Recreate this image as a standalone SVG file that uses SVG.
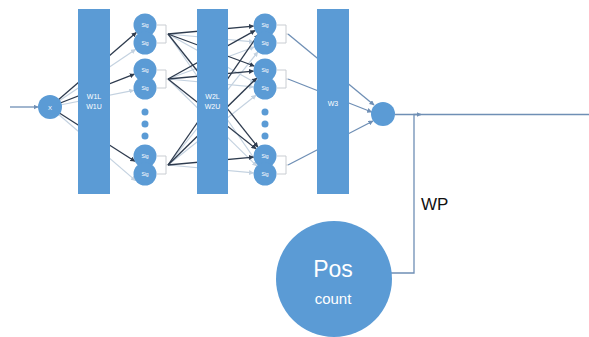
<svg xmlns="http://www.w3.org/2000/svg" width="589" height="337" viewBox="0 0 589 337">
  <style>
    .node { fill: #5B9BD5; }
    .bar { fill: #5B9BD5; }
    .dark { stroke: #2E3B4E; stroke-width: 1.3; fill: none; }
    .light { stroke: #C4D2E0; stroke-width: 1.2; fill: none; }
    .mid { stroke: #6F8FB5; stroke-width: 1.3; fill: none; }
    .bracket { stroke: #C9CDD2; stroke-width: 1; fill: none; }
    .lbl { fill: #FFFFFF; font-family: "Liberation Sans", Arial, sans-serif; text-anchor: middle; }
    .sig { font-size: 5px; }
    .w { font-size: 7px; }
  </style>
  <defs>
    <marker id="ahDark" viewBox="0 0 10 10" refX="9" refY="5" markerWidth="5" markerHeight="5" markerUnits="userSpaceOnUse" orient="auto">
      <path d="M0,0 L10,5 L0,10 z" fill="#2E3B4E"/>
    </marker>
    <marker id="ahLight" viewBox="0 0 10 10" refX="9" refY="5" markerWidth="5" markerHeight="5" markerUnits="userSpaceOnUse" orient="auto">
      <path d="M0,0 L10,5 L0,10 z" fill="#C4D2E0"/>
    </marker>
    <marker id="ahMid" viewBox="0 0 10 10" refX="9" refY="5" markerWidth="5" markerHeight="5" markerUnits="userSpaceOnUse" orient="auto">
      <path d="M0,0 L10,5 L0,10 z" fill="#6F8FB5"/>
    </marker>
  </defs>

  <!-- connectors -->
  <g id="connectors">
    <!-- input -->
    <line class="mid" x1="10" y1="107" x2="38" y2="107" marker-end="url(#ahMid)"/>
    <!-- X to first sigmoid column -->
    <line class="light" x1="50" y1="107" x2="135.5" y2="49.4" marker-end="url(#ahLight)"/>
    <line class="light" x1="50" y1="107" x2="133.7" y2="90.3" marker-end="url(#ahLight)"/>
    <line class="light" x1="50" y1="107" x2="135.6" y2="180.6" marker-end="url(#ahLight)"/>
    <line class="dark" x1="50" y1="107" x2="136.3" y2="32.5" marker-end="url(#ahDark)"/>
    <line class="dark" x1="50" y1="107" x2="134.3" y2="74.2" marker-end="url(#ahDark)"/>
    <line class="dark" x1="50" y1="107" x2="134.8" y2="161.3" marker-end="url(#ahDark)"/>

    <!-- first column brackets -->
    <path class="bracket" d="M157,25 H166 V43 H157 M166,34 H168"/>
    <path class="bracket" d="M157,70 H166 V88 H157 M166,79 H168"/>
    <path class="bracket" d="M157,156 H166 V174 H157 M166,165 H168"/>

    <!-- first column to second column (light) -->
    <line class="light" x1="168" y1="34" x2="253.5" y2="41.9" marker-end="url(#ahLight)"/>
    <line class="light" x1="168" y1="34" x2="254.9" y2="82.4" marker-end="url(#ahLight)"/>
    <line class="light" x1="168" y1="34" x2="258.4" y2="164.5" marker-end="url(#ahLight)"/>
    <line class="light" x1="168" y1="79" x2="254.2" y2="47.0" marker-end="url(#ahLight)"/>
    <line class="light" x1="168" y1="79" x2="253.5" y2="86.9" marker-end="url(#ahLight)"/>
    <line class="light" x1="168" y1="79" x2="256.8" y2="166.0" marker-end="url(#ahLight)"/>
    <line class="light" x1="168" y1="165" x2="257.8" y2="52.0" marker-end="url(#ahLight)"/>
    <line class="light" x1="168" y1="165" x2="256.0" y2="95.2" marker-end="url(#ahLight)"/>
    <line class="light" x1="168" y1="165" x2="253.5" y2="172.9" marker-end="url(#ahLight)"/>
    <!-- first column to second column (dark) -->
    <line class="dark" x1="168" y1="34" x2="253.5" y2="26.1" marker-end="url(#ahDark)"/>
    <line class="dark" x1="168" y1="34" x2="254.2" y2="66.0" marker-end="url(#ahDark)"/>
    <line class="dark" x1="168" y1="34" x2="257.8" y2="147.0" marker-end="url(#ahDark)"/>
    <line class="dark" x1="168" y1="79" x2="254.9" y2="30.6" marker-end="url(#ahDark)"/>
    <line class="dark" x1="168" y1="79" x2="253.5" y2="71.1" marker-end="url(#ahDark)"/>
    <line class="dark" x1="168" y1="79" x2="256.0" y2="148.8" marker-end="url(#ahDark)"/>
    <line class="dark" x1="168" y1="165" x2="258.4" y2="34.5" marker-end="url(#ahDark)"/>
    <line class="dark" x1="168" y1="165" x2="256.8" y2="78.0" marker-end="url(#ahDark)"/>
    <line class="dark" x1="168" y1="165" x2="253.5" y2="157.1" marker-end="url(#ahDark)"/>

    <!-- second column brackets -->
    <path class="bracket" d="M277,25 H286 V43 H277 M286,34 H288"/>
    <path class="bracket" d="M277,70 H286 V88 H277 M286,79 H288"/>
    <path class="bracket" d="M277,156 H286 V174 H277 M286,165 H288"/>

    <!-- second column to output node -->
    <line class="mid" x1="288" y1="34" x2="374" y2="105" marker-end="url(#ahMid)"/>
    <line class="mid" x1="288" y1="79" x2="371.7" y2="112" marker-end="url(#ahMid)"/>
    <line class="mid" x1="288" y1="165" x2="373" y2="121" marker-end="url(#ahMid)"/>

    <!-- output and WP feed -->
    <line class="mid" x1="395" y1="114.5" x2="589" y2="114.5"/>
    <path class="mid" d="M391,273 H414 V114.5 H421" marker-end="url(#ahMid)"/>
  </g>

  <!-- weight bars -->
  <g id="w1">
    <rect class="bar" x="78" y="9" width="32" height="185"/>
    <text class="lbl w" x="94" y="99">W1L</text>
    <text class="lbl w" x="94" y="109">W1U</text>
  </g>
  <g id="w2">
    <rect class="bar" x="197" y="9" width="31" height="185"/>
    <text class="lbl w" x="212.5" y="99">W2L</text>
    <text class="lbl w" x="212.5" y="109">W2U</text>
  </g>
  <g id="w3">
    <rect class="bar" x="317" y="9" width="32" height="185"/>
    <text class="lbl w" x="333" y="106">W3</text>
  </g>

  <!-- input node -->
  <g id="x">
    <circle class="node" cx="50" cy="107" r="12"/>
    <text class="lbl" x="50" y="109.5" font-size="6">X</text>
  </g>

  <!-- first sigmoid column -->
  <g id="sig1">
    <circle class="node" cx="145" cy="25" r="11.5"/>
    <circle class="node" cx="145" cy="43" r="11.5"/>
    <circle class="node" cx="145" cy="70" r="11.5"/>
    <circle class="node" cx="145" cy="88" r="11.5"/>
    <circle class="node" cx="145" cy="112" r="3.5"/>
    <circle class="node" cx="145" cy="124" r="3.5"/>
    <circle class="node" cx="145" cy="136" r="3.5"/>
    <circle class="node" cx="145" cy="156" r="11.5"/>
    <circle class="node" cx="145" cy="174" r="11.5"/>
    <text class="lbl sig" x="145" y="27">Sig</text>
    <text class="lbl sig" x="145" y="45">Sig</text>
    <text class="lbl sig" x="145" y="72">Sig</text>
    <text class="lbl sig" x="145" y="90">Sig</text>
    <text class="lbl sig" x="145" y="158">Sig</text>
    <text class="lbl sig" x="145" y="176">Sig</text>
  </g>

  <!-- second sigmoid column -->
  <g id="sig2">
    <circle class="node" cx="265" cy="25" r="11.5"/>
    <circle class="node" cx="265" cy="43" r="11.5"/>
    <circle class="node" cx="265" cy="70" r="11.5"/>
    <circle class="node" cx="265" cy="88" r="11.5"/>
    <circle class="node" cx="265" cy="112" r="3.5"/>
    <circle class="node" cx="265" cy="124" r="3.5"/>
    <circle class="node" cx="265" cy="136" r="3.5"/>
    <circle class="node" cx="265" cy="156" r="11.5"/>
    <circle class="node" cx="265" cy="174" r="11.5"/>
    <text class="lbl sig" x="265" y="27">Sig</text>
    <text class="lbl sig" x="265" y="45">Sig</text>
    <text class="lbl sig" x="265" y="72">Sig</text>
    <text class="lbl sig" x="265" y="90">Sig</text>
    <text class="lbl sig" x="265" y="158">Sig</text>
    <text class="lbl sig" x="265" y="176">Sig</text>
  </g>

  <!-- output node -->
  <g id="out">
    <circle class="node" cx="383" cy="114" r="12"/>
  </g>

  <!-- WP label -->
  <g id="wp">
    <text x="421" y="210" font-family="Liberation Sans, Arial, sans-serif" font-size="17" fill="#111111">WP</text>
  </g>

  <!-- position count node -->
  <g id="pos">
    <circle class="node" cx="334" cy="279" r="58"/>
    <text class="lbl" x="333" y="277" font-size="23">Pos</text>
    <text class="lbl" x="333" y="304" font-size="15">count</text>
  </g>
</svg>
